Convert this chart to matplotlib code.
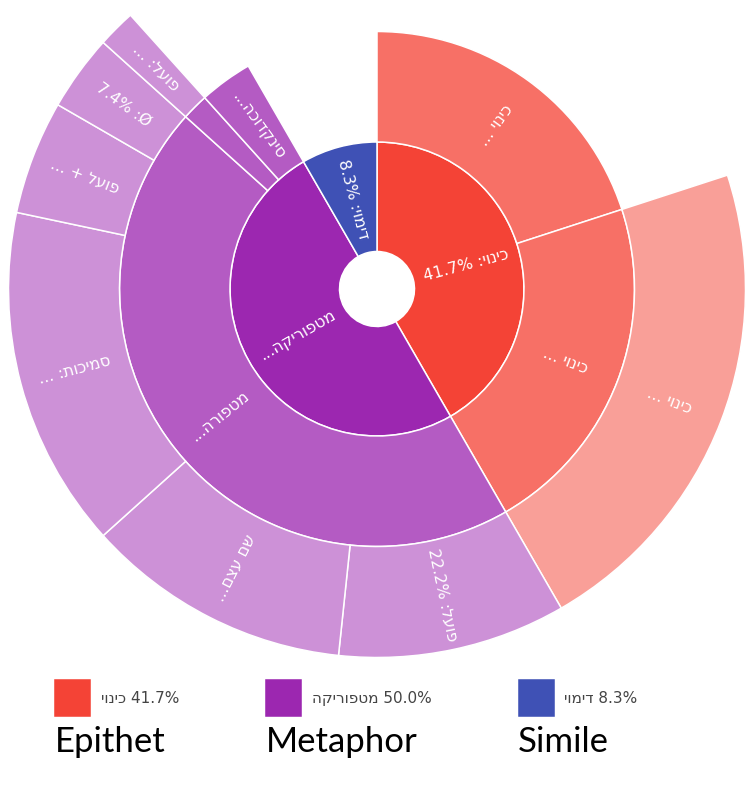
#!/bin/python3

"""
Sunburst of figurative-language categories (epithet / metaphor / simile).
"""

import matplotlib
matplotlib.use("Agg")
import numpy as np
import matplotlib.pyplot as plt
from matplotlib.patches import Wedge, Patch
from matplotlib.colors import to_rgb

# Ring 1 (categories), values in counted units
L1_NAMES = ["כינוי", "מטפוריקה", "דימוי"]
L1_VALUES = [25, 30, 5]
L1_TEXT = ["כינוי: 41.7%", "מטפוריקה...", "דימוי: 8.3%"]
L1_COLORS = ["#F44336", "#9C27B0", "#3F51B5"]
ENGLISH = ["Epithet", "Metaphor", "Simile"]

# Ring 2, each entry points at its parent in ring 1
L2_VALUES = [12, 13, 27, 1, 2]
L2_PARENT = [0, 0, 1, 1, 1]
L2_TEXT = ["כינוי ...", "כינוי ...", "מטפורה...", "", "סינקדוכה..."]

# Ring 3, each entry points at its parent in ring 2
L3_VALUES = [13, 6, 7, 9, 3, 2, 1]
L3_PARENT = [1, 2, 2, 2, 2, 2, 3]
L3_TEXT = ["כינוי ...", "פועל: 22.2%", "שם עצם...", "סמיכות: ...",
           "פועל + ...", "Ø: 7.4%", "פועל: ..."]

W, H = 751, 785
CENTER = (377, H - 289)
RADII = [37.5, 147, 257.5, 368.5]
LIGHTEN = [0.0, 0.24, 0.49]
LABEL_SIZE = 11.5


def has_hebrew(tok: str) -> bool:
    return any("\u0590" <= ch <= "\u05FF" for ch in tok)


def rtl_visual(s: str) -> str:
    """Visual (left-to-right glyph) order of a right-to-left string."""
    out = []
    for tok in reversed(s.split(" ")):
        if has_hebrew(tok):
            out.append(tok[::-1])
        elif tok.endswith(":"):
            out.append(":" + tok[:-1])
        else:
            out.append(tok)
    return " ".join(out)


def ltr_visual(s: str) -> str:
    return " ".join(t[::-1] if has_hebrew(t) else t for t in s.split(" "))


def lighten(color, amount):
    r, g, b = to_rgb(color)
    return (r + (1 - r) * amount, g + (1 - g) * amount, b + (1 - b) * amount)


def child_spans(values, parents, parent_spans):
    cursor = {}
    spans = []
    for v, p in zip(values, parents):
        start = cursor.get(p, parent_spans[p][0])
        spans.append((start, start + v))
        cursor[p] = start + v
    return spans


def radial_rotation(mid_cw):
    rot = 90 - mid_cw
    rot = (rot + 180) % 360 - 180
    if rot > 90:
        rot -= 180
    elif rot < -90:
        rot += 180
    return rot


def draw_ring(ax, spans, roots, texts, depth, total):
    deg = 360.0 / total
    r_in, r_out = RADII[depth], RADII[depth + 1]
    for (a, b), root, text in zip(spans, roots, texts):
        a_deg, b_deg = a * deg, b * deg
        ax.add_patch(Wedge(CENTER, r_out, 90 - b_deg, 90 - a_deg,
                           width=r_out - r_in,
                           facecolor=lighten(L1_COLORS[root], LIGHTEN[depth]),
                           edgecolor="white", linewidth=1.1))
        if text:
            mid = (a_deg + b_deg) / 2
            r_mid = (r_in + r_out) / 2
            th = np.radians(90 - mid)
            ax.text(CENTER[0] + r_mid * np.cos(th), CENTER[1] + r_mid * np.sin(th),
                    rtl_visual(text), color="white", fontsize=LABEL_SIZE,
                    family=["DejaVu Sans"], rotation=radial_rotation(mid),
                    rotation_mode="anchor", ha="center", va="center")


def main() -> None:
    total = sum(L1_VALUES)
    fig = plt.figure(figsize=(W / 100, H / 100), dpi=100)
    ax = fig.add_axes([0, 0, 1, 1])
    ax.set_xlim(0, W)
    ax.set_ylim(0, H)
    ax.set_aspect("equal")
    ax.axis("off")

    s1 = child_spans(L1_VALUES, [None] * len(L1_VALUES), {None: (0, total)})
    s2 = child_spans(L2_VALUES, L2_PARENT, s1)
    s3 = child_spans(L3_VALUES, L3_PARENT, s2)
    roots1 = list(range(len(L1_VALUES)))
    roots2 = [roots1[p] for p in L2_PARENT]
    roots3 = [roots2[p] for p in L3_PARENT]

    draw_ring(ax, s1, roots1, L1_TEXT, 0, total)
    draw_ring(ax, s2, roots2, L2_TEXT, 1, total)
    draw_ring(ax, s3, roots3, L3_TEXT, 2, total)

    handles = [Patch(facecolor=c, edgecolor=c, linewidth=4, joinstyle="round")
               for c in L1_COLORS]
    labels = [ltr_visual(f"{n} {100 * v / total:.1f}%")
              for n, v in zip(L1_NAMES, L1_VALUES)]
    leg = ax.legend(handles, labels, ncol=3, loc="center left",
                    bbox_to_anchor=(57 / W, 1 - 698 / H),
                    bbox_transform=fig.transFigure, frameon=False,
                    prop={"family": "DejaVu Sans", "size": 11},
                    handlelength=2.0, handleheight=2.75, handletextpad=0.85,
                    columnspacing=5.85, borderpad=0, borderaxespad=0)
    for t in leg.get_texts():
        t.set_color("#444444")

    for x, word in zip([55, 266, 518], ENGLISH):
        fig.text(x / W, 1 - 752 / H, word, fontsize=25, family="Lato",
                 color="black", ha="left", va="baseline")

    fig.savefig("out.png", dpi=100)


if __name__ == "__main__":
    main()
